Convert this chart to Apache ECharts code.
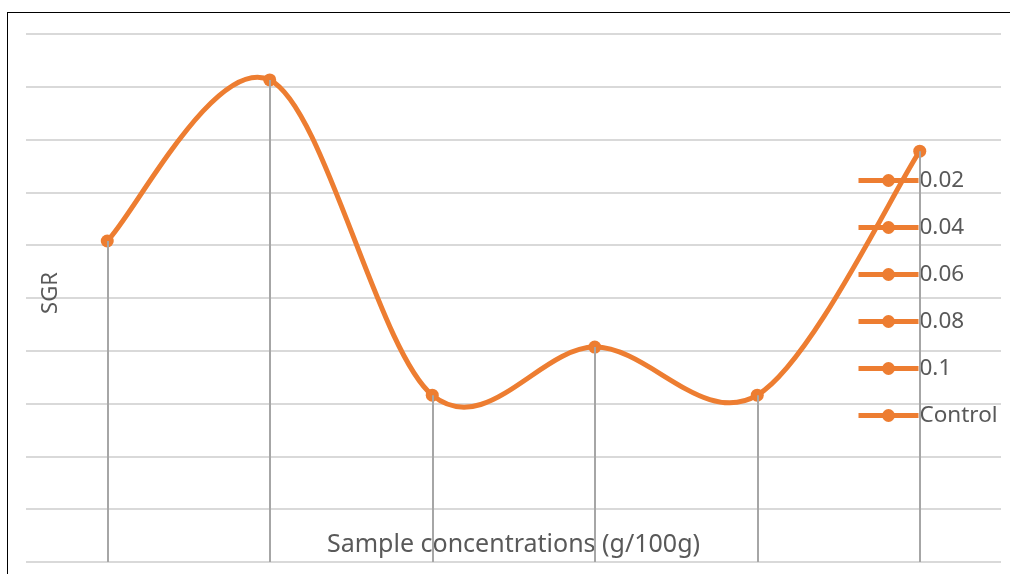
<!DOCTYPE html>
<html>
<head>
<meta charset="utf-8">
<script src="https://cdn.jsdelivr.net/npm/echarts@6/dist/echarts.min.js"></script>
<style>
  html, body { margin: 0; padding: 0; background: #fff; }
  #chart-container { width: 1010px; height: 574px; position: relative; }
  #frame { position: absolute; left: 7px; top: 12px; width: 1010px; height: 600px; border: 1px solid #000; box-sizing: border-box; pointer-events: none; }
</style>
</head>
<body>
<div id="chart-container"></div>
<div id="frame"></div>
<script>
const concentrations = ['0.02', '0.04', '0.06', '0.08', '0.1', 'Control'];
// SGR (no tick labels shown, axis 0..10)
const sgrValues = [6.08, 9.13, 3.16, 4.07, 3.16, 7.78];
const orange = '#ED7D31';

const myChart = echarts.init(document.getElementById('chart-container'));

// spreadsheet style smoothing: bezier control points at +-1/6 of neighbour span
function renderSegment(params, api) {
  const i = params.dataIndex;
  const n = sgrValues.length;
  if (i >= n - 1) return null;
  const pt = k => api.coord([Math.max(0, Math.min(n - 1, k)), sgrValues[Math.max(0, Math.min(n - 1, k))]]);
  const p0 = pt(i - 1), p1 = pt(i), p2 = pt(i + 1), p3 = pt(i + 2);
  return {
    type: 'bezierCurve',
    shape: {
      x1: p1[0], y1: p1[1],
      cpx1: p1[0] + (p2[0] - p0[0]) / 6, cpy1: p1[1] + (p2[1] - p0[1]) / 6,
      cpx2: p2[0] - (p3[0] - p1[0]) / 6, cpy2: p2[1] - (p3[1] - p1[1]) / 6,
      x2: p2[0], y2: p2[1]
    },
    style: { stroke: orange, lineWidth: 5, fill: null, lineCap: 'round' }
  };
}

// one series per concentration for the legend
const legendSeries = concentrations.map(name => ({
  name: name,
  type: 'line',
  data: [],
  symbol: 'circle',
  symbolSize: 13,
  itemStyle: { color: orange },
  lineStyle: { color: orange, width: 5 }
}));

const dropLines = sgrValues.map((v, i) => [
  { coord: [i, v] },
  { coord: [i, 0] }
]);

myChart.setOption({
  animation: false,
  grid: { left: 26, right: 9, top: 34, bottom: 12 },
  legend: {
    orient: 'vertical',
    left: 856,
    top: 169,
    padding: 0,
    itemWidth: 60,
    itemHeight: 16,
    itemGap: 24,
    data: concentrations,
    lineStyle: { width: 5 },
    textStyle: { fontFamily: 'Noto Sans', fontSize: 22.5, color: '#595959', padding: [0, 0, 0, -4] }
  },
  xAxis: {
    type: 'category',
    data: concentrations,
    name: 'Sample concentrations (g/100g)',
    nameLocation: 'middle',
    nameGap: -30,
    nameTextStyle: { fontFamily: 'Noto Sans', fontSize: 25, color: '#595959' },
    axisLine: { show: false },
    axisTick: { show: false },
    axisLabel: { show: false }
  },
  yAxis: {
    type: 'value',
    min: 0,
    max: 10,
    interval: 1,
    name: 'SGR',
    nameLocation: 'middle',
    nameGap: -36,
    nameRotate: 90,
    nameTextStyle: { fontFamily: 'Noto Sans', fontSize: 22, color: '#595959', padding: [0, 0, 0, 10] },
    axisLabel: { show: false },
    splitLine: { lineStyle: { color: '#d9d9d9', width: 2 } }
  },
  series: [
    {
      name: 'SGR curve',
      type: 'custom',
      renderItem: renderSegment,
      data: sgrValues.map((v, i) => [i, v]),
      z: 3
    },
    {
      name: 'SGR',
      type: 'line',
      data: sgrValues,
      symbol: 'circle',
      symbolSize: 13,
      itemStyle: { color: orange },
      lineStyle: { width: 0 },
      z: 4,
      markLine: {
        silent: true,
        symbol: 'none',
        label: { show: false },
        lineStyle: { color: '#a6a6a6', width: 2, type: 'solid' },
        data: dropLines
      }
    }
  ].concat(legendSeries)
});
</script>
</body>
</html>
